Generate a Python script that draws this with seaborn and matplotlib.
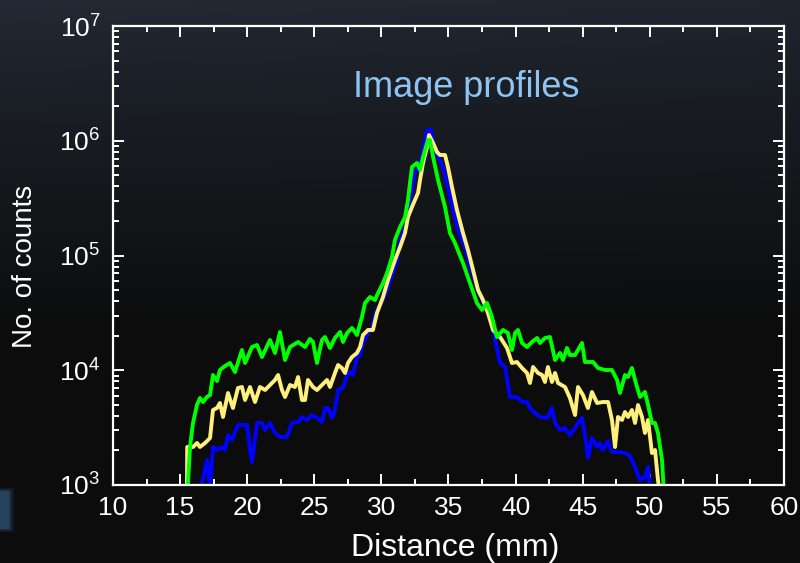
import numpy as np
import pandas as pd
import matplotlib
matplotlib.use("Agg")
import matplotlib.pyplot as plt
import seaborn as sns
from matplotlib.ticker import LogLocator, MultipleLocator
from matplotlib.patches import FancyBboxPatch

# ---- data ----
green_x = [15.37, 15.59, 15.74, 15.96, 16.26, 16.48, 16.71, 17.00, 17.23, 17.45, 17.75, 17.97, 18.35, 18.72,
           19.09, 19.61, 19.84, 20.36, 20.73, 21.10, 21.70, 22.07, 22.44, 22.82, 23.19, 23.79, 24.31, 24.68,
           24.90, 25.20, 25.57, 25.80, 26.17, 26.54, 26.92, 27.14, 27.44, 27.81, 28.18, 28.55, 28.78, 29.15,
           29.52, 29.75, 30.12, 30.42, 30.79, 31.01, 31.39, 31.76, 31.98, 32.13, 32.28, 32.65, 32.88, 33.10,
           33.47, 33.62, 33.85, 34.22, 34.74, 35.11, 35.48, 36.08, 36.60, 37.12, 37.50, 37.87, 38.24, 38.61,
           39.06, 39.43, 39.73, 39.96, 40.18, 40.48, 40.85, 41.22, 41.60, 41.82, 42.19, 42.56, 42.94, 43.31,
           43.53, 43.83, 44.05, 44.43, 44.95, 45.17, 45.77, 46.14, 46.66, 47.18, 47.56, 47.78, 48.15, 48.38,
           48.67, 48.90, 49.27, 49.64, 49.87, 50.16, 50.39, 50.61, 50.91, 51.06]
green_y = [818, 1041, 2144, 3470, 4980, 5730, 5288, 5846, 6085, 9092, 8060, 10050, 10890, 11566,
           9656, 15017, 11566, 15948, 16600, 13047, 18345, 14138, 21544, 12284, 15948, 17632, 15948, 18718,
           17632, 11566, 18345, 19485, 15631, 19097, 21544, 17632, 21116, 23347, 20286, 29114, 38554, 43485,
           40951, 47118, 57590, 70396, 97030, 136500, 177200, 216560, 304600, 428300, 590600, 640000, 556200, 721900,
           1015000, 1015000, 721900, 455000, 264700, 157080, 128520, 86036, 57590, 38554, 33505, 38554, 29114, 19485,
           22428, 21116, 15017, 21116, 22428, 17282, 15948, 17632, 19097, 17282, 19097, 19485, 12284, 14138,
           12284, 15631, 13582, 13582, 17282, 11800, 11800, 10462, 10050, 10050, 8224, 6335, 9092, 8734,
           10462, 8224, 5846, 6463, 4980, 3470, 3470, 2839, 1652, 818]

yellow_x = [15.51, 15.53, 15.96, 16.26, 16.48, 16.86, 17.23, 17.45, 17.75, 17.97, 18.20, 18.57, 18.94, 19.31,
            19.61, 19.84, 20.21, 20.58, 20.95, 21.33, 21.70, 22.07, 22.30, 22.59, 22.82, 23.19, 23.56, 23.79,
            24.08, 24.31, 24.53, 24.90, 25.20, 25.57, 25.95, 26.17, 26.54, 26.77, 27.06, 27.29, 27.51, 27.81,
            28.18, 28.41, 28.63, 29.00, 29.37, 29.67, 30.12, 30.49, 31.01, 31.39, 31.76, 31.98, 32.28, 32.50,
            32.73, 32.88, 33.10, 33.40, 33.55, 33.85, 34.14, 34.37, 34.74, 34.96, 35.26, 35.63, 36.08, 36.45,
            36.83, 37.20, 37.57, 37.94, 38.32, 38.84, 39.36, 39.73, 40.10, 40.48, 40.85, 41.07, 41.30, 41.67,
            41.97, 42.19, 42.41, 42.71, 42.94, 43.16, 43.68, 44.05, 44.43, 44.65, 45.02, 45.39, 45.69, 46.07,
            46.51, 46.89, 47.18, 47.41, 47.63, 47.93, 48.15, 48.38, 48.67, 48.90, 49.12, 49.42, 49.64, 49.87,
            50.16, 50.39, 50.61, 50.76]
yellow_y = [818, 2144, 2144, 2323, 2144, 2323, 2568, 4504, 4688, 5183, 3914, 6335, 4688, 7002,
            7145, 5505, 7145, 5288, 7145, 6727, 7438, 8224, 9092, 6727, 5846, 7438, 7145, 8734,
            5505, 5505, 8224, 7145, 6727, 7438, 8224, 7145, 9464, 11110, 10462, 9464, 11566, 13047,
            14138, 15948, 20286, 22428, 22428, 31545, 43485, 61163, 91367, 118600, 157080, 216560, 264700, 304600,
            350500, 455000, 640000, 882100, 1122000, 956000, 798000, 751400, 751400, 590600, 395400, 249200, 157080, 111660,
            74753, 50034, 40951, 31545, 22428, 19485, 15631, 11566, 11800, 10462, 9464, 7742, 10674, 9464,
            9092, 7899, 10674, 7899, 9464, 7742, 7145, 5730, 4074, 7145, 6085, 4688, 6463, 5183,
            5288, 5288, 3686, 2144, 3914, 3686, 4327, 3914, 4504, 3470, 4980, 3914, 2839, 3686,
            1900, 2018, 1105, 818]

blue_x = [16.48, 16.63, 17.00, 17.23, 17.45, 17.75, 18.12, 18.35, 18.57, 18.87, 19.31, 19.69, 19.99, 20.21,
          20.36, 20.73, 21.10, 21.33, 21.70, 22.07, 22.44, 22.97, 23.34, 23.79, 24.08, 24.46, 24.83, 25.20,
          25.57, 25.80, 26.02, 26.32, 26.54, 26.77, 27.14, 27.44, 27.66, 27.88, 28.18, 28.41, 28.63, 29.00,
          29.30, 29.52, 29.75, 30.04, 30.42, 30.79, 31.16, 31.39, 31.76, 31.98, 32.28, 32.50, 32.73, 33.03,
          33.25, 33.40, 33.70, 33.99, 34.22, 34.59, 34.96, 35.34, 35.71, 36.23, 36.60, 37.12, 37.50, 37.87,
          38.24, 38.47, 38.84, 39.21, 39.58, 40.10, 40.48, 40.85, 41.07, 41.45, 41.82, 42.34, 42.71, 42.94,
          43.31, 43.68, 44.05, 44.43, 44.65, 44.95, 45.17, 45.39, 45.69, 46.07, 46.29, 46.51, 46.89, 47.18,
          47.63, 48.15, 48.53, 48.90, 49.27, 49.64, 49.87, 50.01]
blue_y = [818, 1041, 1652, 905, 2144, 2018, 2144, 2018, 2728, 2467, 3334, 3334, 3334, 2018,
          1587, 3470, 3470, 3015, 3470, 2839, 2620, 2620, 3470, 3540, 3914, 3686, 4074, 3836,
          3540, 4688, 4688, 3836, 4504, 6727, 7002, 9092, 9656, 9092, 12787, 13582, 17282, 21116,
          23347, 30303, 34876, 39334, 50034, 67630, 91367, 136500, 177200, 249200, 372300, 534300, 590600, 721900,
          1015000, 1241000, 1241000, 830600, 721900, 590600, 395400, 249200, 166830, 118600, 79399, 53133, 40951, 33505,
          27416, 18345, 11566, 10674, 5846, 5846, 5288, 5288, 4688, 4241, 3914, 3836, 4688, 3470,
          3015, 3139, 2728, 3139, 3470, 3836, 2728, 1720, 2568, 2144, 2323, 2018, 2418, 1939,
          1939, 1900, 1789, 1435, 1105, 1174, 1435, 905]

series_names = ["blue", "yellow", "green"]
series_colors = {"blue": "#0000ff", "yellow": "#fff07e", "green": "#00ff00"}

x_ticks = [10, 15, 20, 25, 30, 35, 40, 45, 50, 55, 60]
title_text = "Image profiles"
x_label = "Distance (mm)"
y_label = "No. of counts"

# ---- build long table ----
frames = []
for name, xs, ys in [("blue", blue_x, blue_y), ("yellow", yellow_x, yellow_y), ("green", green_x, green_y)]:
    frames.append(pd.DataFrame({"x": xs, "y": ys, "series": name}))
df = pd.concat(frames, ignore_index=True)

# ---- style ----
sns.set_style("ticks")
plt.rcParams["font.family"] = ["Liberation Sans", "DejaVu Sans"]
plt.rcParams["text.color"] = "white"
plt.rcParams["axes.labelcolor"] = "white"

W, H, DPI = 800, 563, 100
fig = plt.figure(figsize=(W / DPI, H / DPI), dpi=DPI)

# background gradient
bg = fig.add_axes([0, 0, 1, 1], zorder=-10)
yy = np.linspace(0, 1, 300)[:, None]
xx = np.linspace(0, 1, 400)[None, :]
t = np.clip(yy / 0.6, 0, 1) ** 0.8
top = np.array([36, 43, 54]) / 255.0
bot = np.array([12, 12, 12]) / 255.0
img = top[None, None, :] * (1 - t[..., None]) + bot[None, None, :] * t[..., None]
img = img * (1.0 - 0.12 * xx[..., None] * (1 - t[..., None]))
img = np.clip(img, 0, 1)
img = np.broadcast_to(img, (300, 400, 3))
bg.imshow(img, aspect="auto", extent=[0, 1, 0, 1], origin="upper")
bg.set_axis_off()
# small decorative glow at bottom-left edge
for a, pad in [(0.12, 0.006), (0.22, 0.003), (0.4, 0.0)]:
    bg.add_patch(FancyBboxPatch((-0.01 - pad, 1 - 528 / H - pad), 0.02 + 2 * pad, 36 / H + 2 * pad,
                                boxstyle="round,pad=0.002", transform=bg.transAxes,
                                facecolor="#3a6a9a", edgecolor="none", alpha=a))

ax = fig.add_axes([113 / W, 1 - 485 / H, (784 - 113) / W, (485 - 26) / H])
ax.set_facecolor("none")

sns.lineplot(data=df, x="x", y="y", hue="series", hue_order=series_names,
             palette=series_colors, estimator=None, sort=False, units="series",
             linewidth=2.8, legend=False, ax=ax)

ax.set_yscale("log")
ax.set_xlim(10, 60)
ax.set_ylim(1e3, 1e7)
ax.set_xticks(x_ticks)
ax.xaxis.set_minor_locator(MultipleLocator(2.5))
ax.yaxis.set_major_locator(LogLocator(base=10, numticks=10))
ax.yaxis.set_minor_locator(LogLocator(base=10, subs=np.arange(2, 10), numticks=20))

for s in ax.spines.values():
    s.set_color("white")
    s.set_linewidth(1.6)
    s.set_visible(True)

ax.tick_params(which="both", direction="in", colors="white", top=True, right=True,
               width=1.4)
ax.tick_params(which="major", length=8)
ax.tick_params(which="minor", length=4.5)
ax.tick_params(axis="x", which="major", labelsize=19, pad=8)
ax.tick_params(axis="y", which="major", labelsize=19, pad=9)

ax.set_xlabel(x_label, fontsize=23)
ax.set_ylabel(y_label, fontsize=20)
ax.xaxis.label.set_va("center")
ax.yaxis.label.set_va("center")
ax.xaxis.set_label_coords(0.51, -0.137)
ax.yaxis.set_label_coords(-0.131, 0.477)

ax.text(0.526, 0.865, title_text, transform=ax.transAxes, ha="center", va="center",
        fontsize=26, color="#8ec3f2")

fig.savefig("out.png", dpi=DPI)
